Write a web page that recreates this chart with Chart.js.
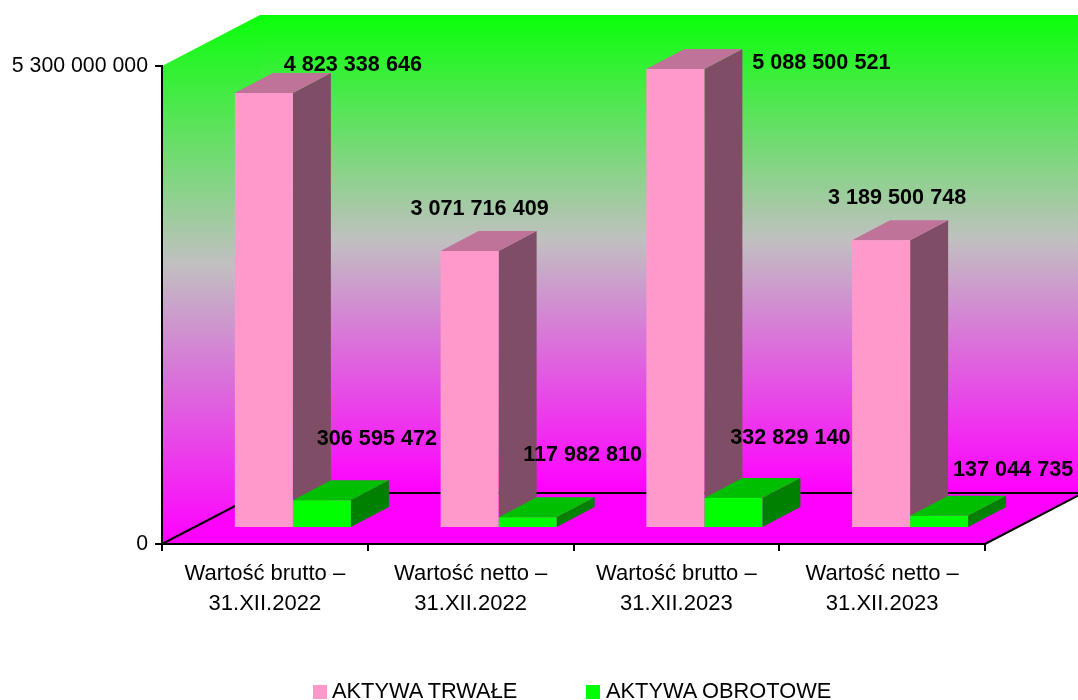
<!DOCTYPE html>
<html>
<head>
<meta charset="utf-8">
<title>Aktywa</title>
<script src="https://cdn.jsdelivr.net/npm/chart.js@4"></script>
<style>
  body { margin: 0; background: #fff; }
  #wrap { position: relative; width: 1078px; height: 700px; overflow: hidden; }
  #legend { position: absolute; left: 313px; top: 677px; font: 21.8px "Liberation Sans", Arial, sans-serif; color: #000; white-space: nowrap; }
  #legend span { position: absolute; top: 0; line-height: 28px; }
  #legend i { position: absolute; top: 8px; width: 14px; height: 14px; }
</style>
</head>
<body>
<div id="wrap">
  <canvas id="chart" width="1078" height="700"></canvas>
  <div id="legend"></div>
</div>
<script>
const categories = [
  ['Wartość brutto –', '31.XII.2022'],
  ['Wartość netto –', '31.XII.2022'],
  ['Wartość brutto –', '31.XII.2023'],
  ['Wartość netto –', '31.XII.2023'],
];
const aktywaTrwale = [4823338646, 3071716409, 5088500521, 3189500748];
const aktywaObrotowe = [306595472, 117982810, 332829140, 137044735];
const yTicks = [0, 5300000000];

const FONT = '"Liberation Sans", Arial, sans-serif';
const WALL = { dx: 98, dy: -51 };      // depth of the 3d box
const BAR_SHIFT = { dx: 28, dy: -16 }; // bars stand in the middle of the floor
const BAR_DEPTH = { dx: 38, dy: -20 };

// value labels were placed by hand in the original chart
const trwaleNudge = [[89, -28], [10, -42], [146, -6], [16, -42]];
const obrotoweNudge = [[55, -61], [55, -62], [57, -60], [74, -46]];

const formatNumber = (value) => String(value).replace(/\B(?=(\d{3})+(?!\d))/g, ' ');

function polygon(ctx, points, fill) {
  ctx.beginPath();
  points.forEach((p, i) => (i ? ctx.lineTo(p[0], p[1]) : ctx.moveTo(p[0], p[1])));
  ctx.closePath();
  ctx.fillStyle = fill;
  ctx.fill();
}

function wallGradient(ctx, top, bottom) {
  const g = ctx.createLinearGradient(0, top, 0, bottom);
  g.addColorStop(0, '#0aff0a');
  g.addColorStop(0.47, '#c0c0c0');
  g.addColorStop(1, '#ff00ff');
  return g;
}

const scene3d = {
  id: 'scene3d',
  beforeDraw(chart) {
    const { ctx, chartArea: a } = chart;
    const bx = a.left + WALL.dx;
    const top = a.top + WALL.dy;
    const by = a.bottom + WALL.dy;
    const rx = a.right + WALL.dx;
    polygon(ctx, [[a.left, a.top], [bx, top], [bx, by], [a.left, a.bottom]], wallGradient(ctx, top, a.bottom));
    polygon(ctx, [[bx, top], [rx, top], [rx, by], [bx, by]], wallGradient(ctx, top, by));
    polygon(ctx, [[a.left, a.bottom], [bx, by], [rx, by], [a.right, a.bottom]], '#ff00ff');
    ctx.save();
    ctx.strokeStyle = '#000';
    ctx.lineWidth = 2;
    ctx.beginPath();
    ctx.moveTo(a.left, a.bottom);
    ctx.lineTo(bx, by);
    ctx.lineTo(rx, by);
    ctx.lineTo(a.right, a.bottom);
    ctx.stroke();
    ctx.restore();
  },
  beforeDatasetsDraw(chart) {
    const { ctx } = chart;
    ctx.save();
    ctx.translate(BAR_SHIFT.dx, BAR_SHIFT.dy);
    const faces = [['#bf7399', '#804d66'], ['#00bf00', '#008000']];
    faces.forEach((colors, d) => {
      chart.getDatasetMeta(d).data.forEach((bar) => {
        const l = bar.x - bar.width / 2;
        const r = bar.x + bar.width / 2;
        const ex = BAR_DEPTH.dx;
        const ey = BAR_DEPTH.dy;
        polygon(ctx, [[r, bar.y], [r + ex, bar.y + ey], [r + ex, bar.base + ey], [r, bar.base]], colors[1]);
        polygon(ctx, [[l, bar.y], [l + ex, bar.y + ey], [r + ex, bar.y + ey], [r, bar.y]], colors[0]);
      });
    });
  },
  afterDatasetsDraw(chart) {
    const { ctx } = chart;
    ctx.restore();
    ctx.save();
    ctx.font = 'bold 21.6px ' + FONT;
    ctx.fillStyle = '#000';
    ctx.textAlign = 'center';
    ctx.textBaseline = 'middle';
    [trwaleNudge, obrotoweNudge].forEach((nudge, d) => {
      chart.getDatasetMeta(d).data.forEach((bar, i) => {
        const value = chart.data.datasets[d].data[i];
        ctx.fillText(formatNumber(value), bar.x + BAR_SHIFT.dx + nudge[i][0], bar.y + BAR_SHIFT.dy + nudge[i][1]);
      });
    });
    ctx.restore();
  },
};

const chart = new Chart(document.getElementById('chart'), {
  type: 'bar',
  data: {
    labels: categories,
    datasets: [
      { label: 'AKTYWA TRWAŁE', data: aktywaTrwale, backgroundColor: '#ff99cc', borderWidth: 0 },
      { label: 'AKTYWA OBROTOWE', data: aktywaObrotowe, backgroundColor: '#00ff00', borderWidth: 0 },
    ],
  },
  options: {
    responsive: false,
    animation: false,
    layout: { padding: { top: 66, right: 93, left: 0, bottom: 0 } },
    plugins: { legend: { display: false }, tooltip: { enabled: false } },
    datasets: { bar: { categoryPercentage: 0.564, barPercentage: 1 } },
    scales: {
      x: {
        afterFit(scale) { scale.height = 156; },
        grid: { drawOnChartArea: false, color: '#000', lineWidth: 2, tickLength: 7, offset: true },
        border: { color: '#000', width: 2 },
        ticks: {
          color: '#000',
          font: { family: FONT, size: 22, lineHeight: 1.364 },
          maxRotation: 0,
          autoSkip: false,
          padding: 8,
        },
      },
      y: {
        min: yTicks[0],
        max: yTicks[yTicks.length - 1],
        afterFit(scale) { scale.width = 162; },
        afterBuildTicks(scale) { scale.ticks = yTicks.map((value) => ({ value })); },
        grid: { drawOnChartArea: false, color: '#000', lineWidth: 2, tickLength: 7 },
        border: { color: '#000', width: 2 },
        ticks: {
          color: '#000',
          font: { family: FONT, size: 21.3 },
          padding: 7,
          callback: (value) => formatNumber(value),
        },
      },
    },
  },
  plugins: [scene3d],
});

// legend sits off-centre in the original, so it is plain html
const legendEl = document.getElementById('legend');
const legendX = [0, 273];
chart.data.datasets.forEach((ds, i) => {
  const box = document.createElement('i');
  box.style.left = legendX[i] + 'px';
  box.style.background = ds.backgroundColor;
  const text = document.createElement('span');
  text.style.left = legendX[i] + 19 + i + 'px';
  text.textContent = ds.label;
  legendEl.append(box, text);
});
</script>
</body>
</html>
